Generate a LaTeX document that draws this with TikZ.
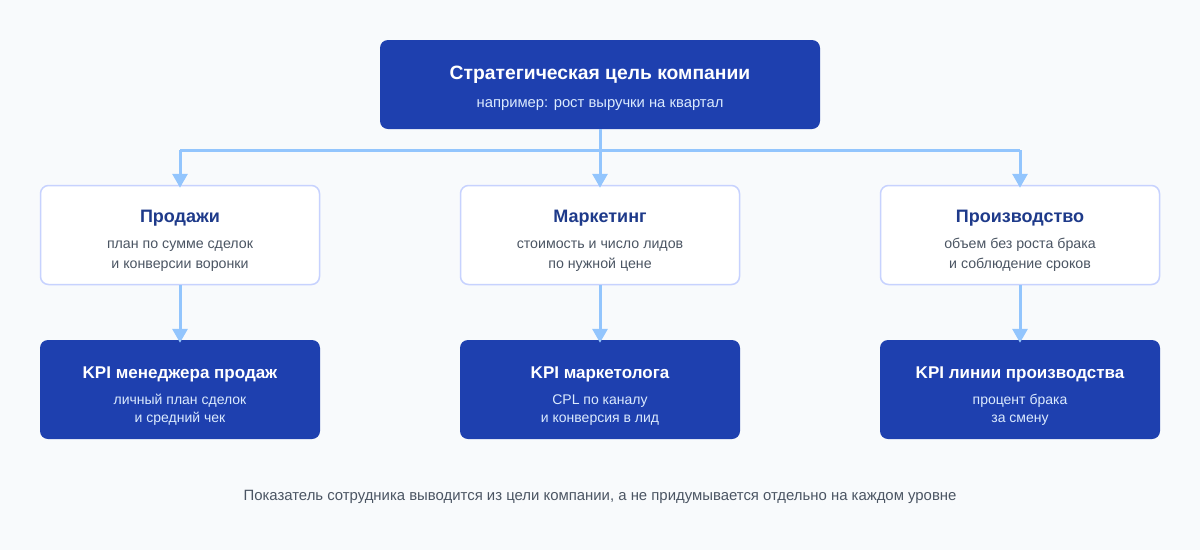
\documentclass[tikz,border=0pt]{standalone}
\usepackage{fontspec}
\setmainfont{Liberation Sans}
\usetikzlibrary{arrows.meta,positioning}
\definecolor{bg}{HTML}{F8FAFC}
\definecolor{dark}{HTML}{1E40AF}
\definecolor{titleblue}{HTML}{1E3A8A}
\definecolor{edge}{HTML}{C7D2FE}
\definecolor{arrowc}{HTML}{93C5FD}
\definecolor{greytxt}{HTML}{4B5563}
\definecolor{lighttxt}{HTML}{DBEAFE}
\tikzset{
  darkbox/.style={rectangle, rounded corners=8pt, fill=dark, draw=none, minimum width=#1, minimum height=89pt, inner sep=0pt},
  whitebox/.style={rectangle, rounded corners=8pt, fill=white, draw=edge, line width=1.5pt, minimum width=279pt, minimum height=99pt, inner sep=0pt},
  kpibox/.style={rectangle, rounded corners=8pt, fill=dark, draw=none, minimum width=280pt, minimum height=99pt, inner sep=0pt},
  txt/.style={anchor=base, inner sep=0pt},
  whitetitle/.style={txt, font=\fontsize{17}{21}\selectfont\bfseries, text=white},
  bluetitle/.style={txt, font=\fontsize{18}{22}\selectfont\bfseries, text=titleblue},
  subdark/.style={txt, font=\fontsize{14}{18}\selectfont, text=lighttxt},
  subwhite/.style={txt, font=\fontsize{14.2}{20}\selectfont, text=greytxt},
  conn/.style={draw=arrowc, line width=3pt},
  arr/.style={conn, -{Triangle[length=14pt,width=15pt]}},
}
\begin{document}
\begin{tikzpicture}[x=1pt,y=-1pt]
\fill[bg] (0,0) rectangle (1200,550);
\useasboundingbox (0,0) rectangle (1200,550);

% top
\node[darkbox=440pt] (top) at (600,84.5) {};
\node[whitetitle, font=\fontsize{19.3}{23}\selectfont\bfseries] (toptitle) at (600,79) {Стратегическая цель компании};
\node[subdark, font=\fontsize{14.8}{18}\selectfont] (topsub) at (600,107.5) {например: рост выручки на квартал};

% middle
\node[whitebox] (m1) at (180,235) {};
\node[whitebox] (m2) at (600,235) {};
\node[whitebox] (m3) at (1020,235) {};
\node[bluetitle] (m1t) at (180,222.5) {Продажи};
\node[bluetitle] (m2t) at (600,222.5) {Маркетинг};
\node[bluetitle] (m3t) at (1020,222.5) {Производство};
\node[subwhite] (m1a) at (180,248.5) {план по сумме сделок};
\node[subwhite] (m1b) at (180,268.5) {и конверсии воронки};
\node[subwhite] (m2a) at (600,248.5) {стоимость и число лидов};
\node[subwhite] (m2b) at (600,268.5) {по нужной цене};
\node[subwhite] (m3a) at (1020,248.5) {объем без роста брака};
\node[subwhite] (m3b) at (1020,268.5) {и соблюдение сроков};

% bottom
\node[kpibox] (k1) at (180,389.5) {};
\node[kpibox] (k2) at (600,389.5) {};
\node[kpibox] (k3) at (1020,389.5) {};
\node[whitetitle] (k1t) at (180,378.5) {KPI менеджера продаж};
\node[whitetitle] (k2t) at (600,378.5) {KPI маркетолога};
\node[whitetitle] (k3t) at (1020,378.5) {KPI линии производства};
\node[subdark] (k1a) at (180,404.5) {личный план сделок};
\node[subdark] (k1b) at (180,422.5) {и средний чек};
\node[subdark] (k2a) at (600,404.5) {CPL по каналу};
\node[subdark] (k2b) at (600,422.5) {и конверсия в лид};
\node[subdark] (k3a) at (1020,404.5) {процент брака};
\node[subdark] (k3b) at (1020,422.5) {за смену};

% connectors
\coordinate (bus) at (600,150);
\draw[conn] (top.south) -- (bus);
\draw[conn] (180,150) -- (1020,150);
\draw[arr] (bus) -- ([yshift=-3pt]m2.north);
\draw[arr] (m1.north |- bus) -- ([yshift=-3pt]m1.north);
\draw[arr] (m3.north |- bus) -- ([yshift=-3pt]m3.north);
\draw[arr] (m1.south) -- ([yshift=-3pt]k1.north);
\draw[arr] (m2.south) -- ([yshift=-3pt]k2.north);
\draw[arr] (m3.south) -- ([yshift=-3pt]k3.north);

% footer
\node[txt, font=\fontsize{14.9}{18}\selectfont, text=greytxt] (foot) at (600,500) {Показатель сотрудника выводится из цели компании, а не придумывается отдельно на каждом уровне};
\end{tikzpicture}
\end{document}
